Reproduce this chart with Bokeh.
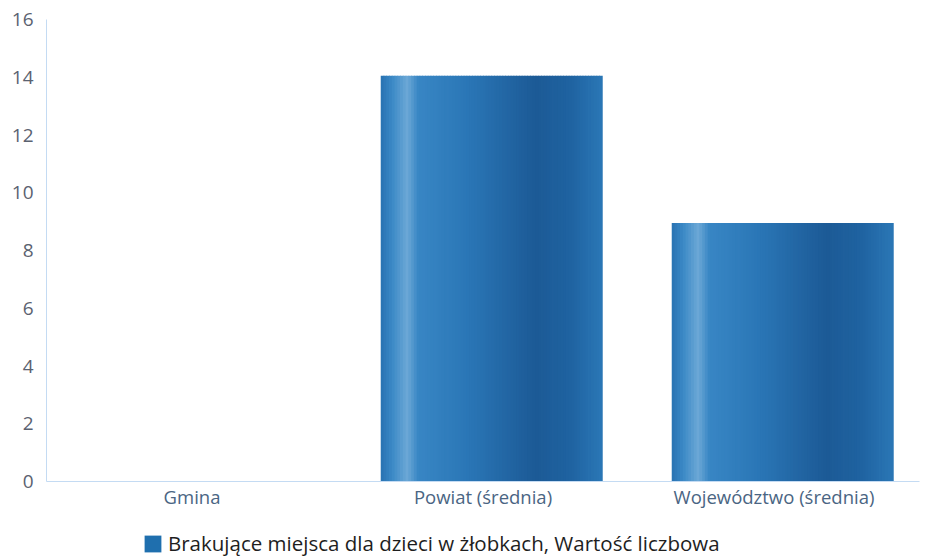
from bokeh.plotting import figure
from bokeh.layouts import column
from bokeh.models import ColumnDataSource, Legend, LegendItem, FixedTicker
from bokeh.transform import dodge
from bokeh.embed import file_html
from bokeh.resources import INLINE

categories = ["Gmina", "Powiat (średnia)", "Województwo (średnia)"]
values = [0, 14.05, 8.95]
y_ticks = [0, 2, 4, 6, 8, 10, 12, 14, 16]
series_name = "Brakujące miejsca dla dzieci w żłobkach, Wartość liczbowa"

src = ColumnDataSource(dict(cat=categories, value=values))

p = figure(x_range=categories, y_range=(0, 16), width=927, height=520,
           output_backend="svg", toolbar_location=None,
           min_border_left=46, min_border_right=8, min_border_top=19, min_border_bottom=39)
p.outline_line_color = None
p.background_fill_color = "white"
p.border_fill_color = "white"
p.grid.grid_line_color = None

FONT = "Open Sans"
p.yaxis.ticker = FixedTicker(ticks=y_ticks)
p.yaxis.axis_line_color = "#c4dbf3"
p.yaxis.major_tick_line_color = None
p.yaxis.major_tick_out = 0
p.yaxis.major_tick_in = 0
p.yaxis.minor_tick_line_color = None
p.yaxis.major_label_text_font = FONT
p.yaxis.major_label_text_font_size = "19px"
p.yaxis.major_label_text_color = "#5b6270"
p.yaxis.major_label_standoff = 13

p.xaxis.axis_line_color = "#c4dbf3"
p.xaxis.major_tick_line_color = None
p.xaxis.major_tick_out = 0
p.xaxis.major_tick_in = 0
p.xaxis.minor_tick_line_color = None
p.xaxis.major_label_text_font = FONT
p.xaxis.major_label_text_font_size = "18.5px"
p.xaxis.major_label_text_color = "#4a6583"
p.xaxis.major_label_standoff = 2

# cylinder-like shading drawn as thin strips of the same bar
bar_w = 0.76
profile = [(0.00, (40, 114, 178)), (0.05, (58, 136, 197)), (0.12, (108, 168, 214)),
           (0.17, (56, 134, 196)), (0.40, (42, 118, 182)), (0.70, (28, 90, 150)),
           (0.86, (31, 99, 161)), (1.00, (43, 119, 182))]

def col_at(t):
    for (t0, c0), (t1, c1) in zip(profile[:-1], profile[1:]):
        if t0 <= t <= t1:
            f = (t - t0) / (t1 - t0) if t1 > t0 else 0
            return "#%02x%02x%02x" % tuple(int(round(a + (b - a) * f)) for a, b in zip(c0, c1))
    return "#%02x%02x%02x" % profile[-1][1]

N = 80
sw = bar_w / N
for i in range(N):
    t = (i + 0.5) / N
    off = 0.03 - bar_w / 2 + sw * (i + 0.5)
    p.vbar(x=dodge("cat", off, range=p.x_range), top="value", width=sw * 1.3,
           source=src, fill_color=col_at(t), line_color=None)

# legend strip below the chart
p2 = figure(width=927, height=37, x_range=(0, 927), y_range=(0, 37),
            output_backend="svg", toolbar_location=None,
            x_axis_type=None, y_axis_type=None,
            min_border_left=0, min_border_right=0, min_border_top=0, min_border_bottom=0)
p2.outline_line_color = None
p2.grid.grid_line_color = None
p2.border_fill_color = "white"
p2.background_fill_color = "white"
leg_r = p2.vbar(x=[-1000], top=[0], width=1, fill_color="#1f6fae", line_color=None)

legend = Legend(items=[LegendItem(label=series_name, renderers=[leg_r])],
                location=(96, 0), orientation="horizontal",
                label_text_font=FONT, label_text_font_size="20.5px", label_text_color="#1e1e1e",
                glyph_width=21, glyph_height=21, label_standoff=5,
                border_line_color=None, background_fill_alpha=0,
                padding=0, margin=0)
p2.add_layout(legend, "center")

open("out.html", "w").write(file_html(column(p, p2, spacing=0), INLINE))
